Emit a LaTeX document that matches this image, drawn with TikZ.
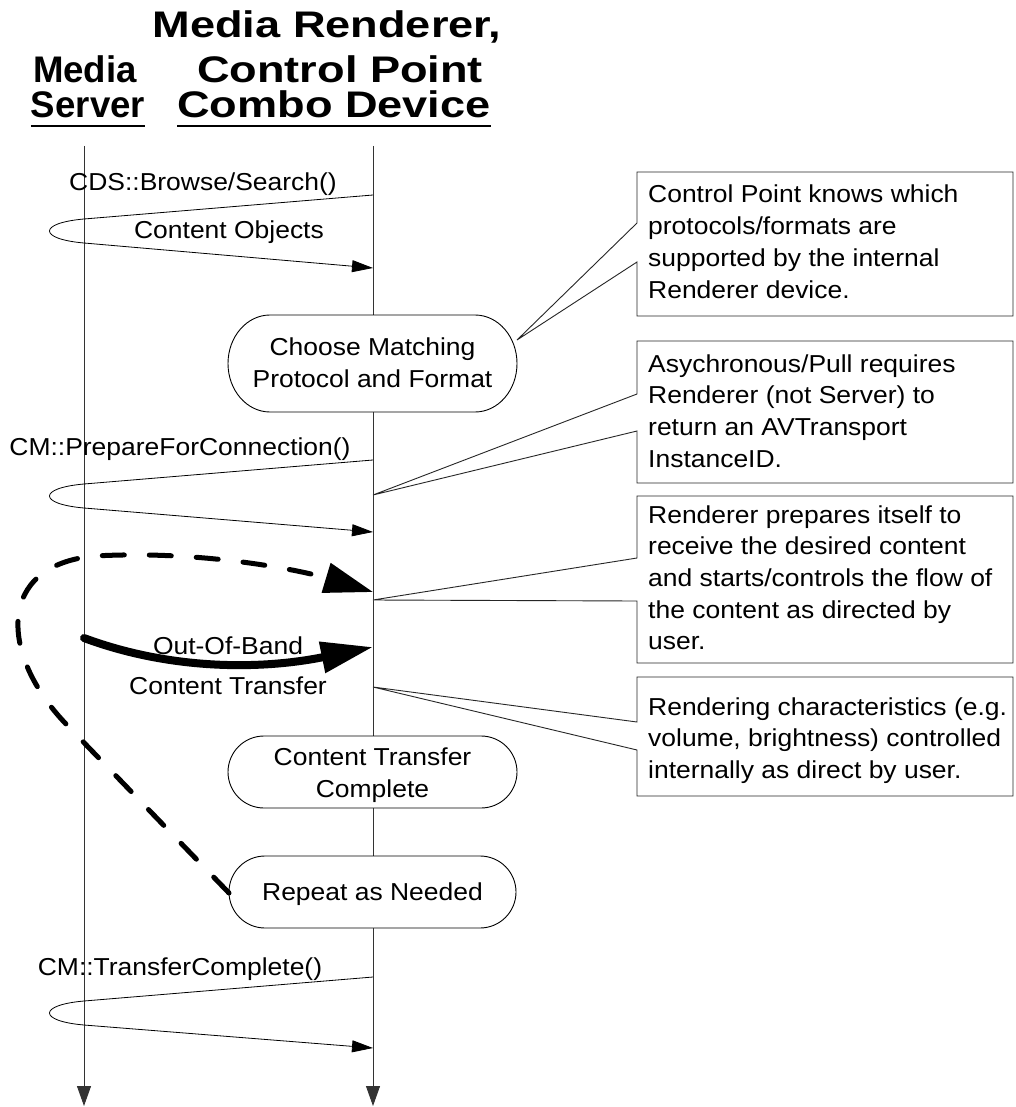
\documentclass[tikz,border=0pt]{standalone}
\usepackage{fontspec}
\setmainfont[FakeStretch=1.08]{Liberation Sans}
\newfontfamily\hdrL[FakeStretch=0.99]{Liberation Sans}
\newfontfamily\hdrR[FakeStretch=1.22]{Liberation Sans}
\usetikzlibrary{arrows.meta}
\newcommand\stadiumbox[5]{%
  \draw[stadium] ({#1-#3/2+#5},{#2-#4/2}) -- ({#1+#3/2-#5},{#2-#4/2})
    .. controls ({#1+#3/2-#5+0.5523*#5},{#2-#4/2}) and ({#1+#3/2},{#2-0.5523*#4/2}) .. ({#1+#3/2},{#2})
    .. controls ({#1+#3/2},{#2+0.5523*#4/2}) and ({#1+#3/2-#5+0.5523*#5},{#2+#4/2}) .. ({#1+#3/2-#5},{#2+#4/2})
    -- ({#1-#3/2+#5},{#2+#4/2})
    .. controls ({#1-#3/2+#5-0.5523*#5},{#2+#4/2}) and ({#1-#3/2},{#2+0.5523*#4/2}) .. ({#1-#3/2},{#2})
    .. controls ({#1-#3/2},{#2-0.5523*#4/2}) and ({#1-#3/2+#5-0.5523*#5},{#2-#4/2}) .. ({#1-#3/2+#5},{#2-#4/2}) -- cycle;}
\begin{document}
\begin{tikzpicture}[x=1pt,y=-1pt,
  life/.style={line width=0.9pt, draw=black!80, -{Triangle[length=20pt,width=14pt]}},
  msg/.style={line width=0.8pt, draw=black, -{Triangle[length=21pt,width=12pt]}},
  lbl/.style={inner sep=0pt, anchor=base, font=\fontsize{24.5}{32}\selectfont},
  boxtxt/.style={inner sep=0pt, anchor=base, font=\fontsize{24.5}{32}\selectfont},
  hdrl/.style={inner sep=0pt, anchor=base, font=\hdrL\bfseries\fontsize{37}{45}\selectfont},
  hdrr/.style={inner sep=0pt, anchor=base, font=\hdrR\bfseries\fontsize{37}{45}\selectfont},
  uline/.style={line width=2.4pt},
  callout/.style={draw=black!85, line width=0.9pt, fill=white, line join=miter},
  note/.style={inner sep=0pt, anchor=base west, font=\fontsize{24.5}{31.7}\selectfont},
  stadium/.style={draw=black, line width=0.9pt, fill=white},
  loopdash/.style={line width=5pt, line cap=round, dash pattern=on 22pt off 25pt,
     -{Triangle[length=49pt,width=30pt]}},
  bigflow/.style={line width=8pt, line cap=round, -{Triangle[length=52pt,width=30pt]}},
]
\useasboundingbox (0,0) rectangle (1015,1107);
\fill[white] (0,0) rectangle (1015,1107);

% lifelines
\coordinate (srvTop) at (84,146);  \coordinate (srvEnd) at (84,1106);
\coordinate (rndTop) at (373,146); \coordinate (rndEnd) at (373,1106);
\draw[life] (srvTop) -- (srvEnd);
\draw[life] (rndTop) -- (rndEnd);

% headers
\node[hdrl] (hMedia) at (85,83) {Media};
\node[hdrl] (hServer) at (88,118) {Server};
\draw[uline] ([yshift=-8pt]hServer.base west) -- ([yshift=-8pt]hServer.base east);
\node[hdrr] (hRend) at (327,38) {Media Renderer,};
\node[hdrr] (hCP) at (340,83) {Control Point};
\node[hdrr] (hCombo) at (334,118) {Combo Device};
\draw[uline] ([yshift=-8pt]hCombo.base west) -- ([yshift=-8pt]hCombo.base east);

% callouts
\draw[callout] (637,172) -- (637,223) -- (517,340) -- (637,262) -- (637,316) -- (1013,316) -- (1013,172) -- cycle;
\draw[callout] (637,341) -- (637,394) -- (373,495) -- (637,431) -- (637,483) -- (1013,483) -- (1013,341) -- cycle;
\draw[callout] (637,496) -- (637,558) -- (373,600) -- (637,601) -- (637,663) -- (1013,663) -- (1013,496) -- cycle;
\draw[callout] (637,677) -- (637,722) -- (373,687) -- (637,750) -- (637,796) -- (1013,796) -- (1013,677) -- cycle;
\node[note] (nA) at (648,203) {\begin{tabular}[t]{@{}l@{}}Control Point knows which\\protocols/formats are\\supported by the internal\\Renderer device.\end{tabular}};
\node[note] (nB) at (648,372) {\begin{tabular}[t]{@{}l@{}}Asychronous/Pull requires\\Renderer (not Server) to\\return an AVTransport\\InstanceID.\end{tabular}};
\node[note] (nC) at (648,523) {\begin{tabular}[t]{@{}l@{}}Renderer prepares itself to\\receive the desired content\\and starts/controls the flow of\\the content as directed by\\user.\end{tabular}};
\node[note] (nD) at (648,715) {\begin{tabular}[t]{@{}l@{}}Rendering characteristics (e.g.\\volume, brightness) controlled\\internally as direct by user.\end{tabular}};

% activity boxes
\stadiumbox{372.5}{363.5}{289}{97}{42}
\stadiumbox{372.5}{772}{289}{72}{36}
\stadiumbox{372.5}{892}{287}{72}{36}
\node[boxtxt] (choose) at (372.5,355) {\begin{tabular}[t]{@{}c@{}}Choose Matching\\Protocol and Format\end{tabular}};
\node[boxtxt] (ctc) at (372.5,765) {\begin{tabular}[t]{@{}c@{}}Content Transfer\\Complete\end{tabular}};
\node[boxtxt] (rep) at (372.5,900) {Repeat as Needed};

% messages
\coordinate (m1a) at (373,195); \coordinate (m1b) at (84,219); \coordinate (m1c) at (84,243); \coordinate (m1d) at (373,268);
\draw[msg] (m1a) -- (m1b) .. controls (38,223) and (38,239) .. (m1c) -- (m1d);
\node[lbl] (tBrowse) at (203,191) {CDS::Browse/Search()};
\node[lbl] (tObj) at (229,239) {Content Objects};

\coordinate (m2a) at (373,460); \coordinate (m2b) at (84,484); \coordinate (m2c) at (84,508); \coordinate (m2d) at (373,532);
\draw[msg] (m2a) -- (m2b) .. controls (38,488) and (38,504) .. (m2c) -- (m2d);
\node[lbl] (tPrep) at (180,455) {CM::PrepareForConnection()};

\coordinate (m3a) at (373,977); \coordinate (m3b) at (84,1001); \coordinate (m3c) at (84,1025); \coordinate (m3d) at (373,1048);
\draw[msg] (m3a) -- (m3b) .. controls (38,1005) and (38,1021) .. (m3c) -- (m3d);
\node[lbl] (tTC) at (180,975) {CM::TransferComplete()};

% repeat loop (dashed)
\coordinate (repW) at (229,893);
\coordinate (loopEnd) at (373,592);
\draw[loopdash] (repW) -- (66,724) .. controls (0,655) and (-5,565) .. (95,556)
   .. controls (200,550) and (300,570) .. (loopEnd);

% out-of-band transfer
\coordinate (oobS) at (84,638);
\coordinate (oobE) at (373,647);
\draw[bigflow] (oobS) .. controls (170,670) and (260,670) .. (oobE);
\node[lbl] (tOOB1) at (228,654) {Out-Of-Band};
\node[lbl] (tOOB2) at (228,694) {Content Transfer};
\end{tikzpicture}
\end{document}
